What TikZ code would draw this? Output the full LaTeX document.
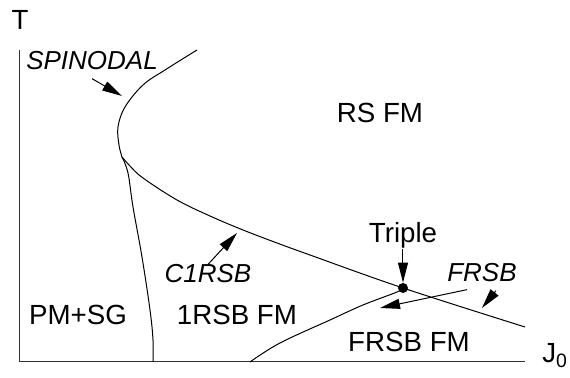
\documentclass[tikz,border=0pt]{standalone}
\usepackage{fontspec}
\setmainfont{Liberation Sans}
\usepackage{tikz}
\usetikzlibrary{positioning,arrows.meta,calc}

\begin{document}
\begin{tikzpicture}[x=0.5pt, y=-0.5pt,
    phase/.style={anchor=base, inner sep=0pt, font=\fontsize{13.85}{16}\selectfont},
    tag/.style={anchor=base, inner sep=0pt, font=\fontsize{13}{15}\selectfont\itshape},
    arr/.style={-{Triangle[length=10pt,width=5pt]}, line width=0.5pt},
    curve/.style={line width=0.5pt}]
    \useasboundingbox (0,0) rectangle (570,378);

    % Axes
    \draw[black!80, line width=0.5pt] (20,50) |- (525,362);
    \node[phase] (T) at (20,30) {T};
    \node[phase, anchor=base west] (J) at (542,363) {J\textsubscript{0}};

    % Spinodal line
    \draw[curve] plot[smooth, tension=0.6] coordinates {(197,50) (165,70) (143,85)
        (125,107) (118,127) (119,145) (122,157)};
    % C1RSB line, through the triple point
    \draw[curve] plot[smooth, tension=0.6] coordinates {(122,157) (130,166) (143,178)
        (177,200) (210,216) (243,230) (277,243) (310,255) (403,288) (525,327)};
    % PM+SG / 1RSB FM boundary
    \draw[curve] plot[smooth, tension=0.6] coordinates {(122,157) (128,173) (133,207)
        (142,257) (150,310) (153,340) (153,362)};
    % 1RSB FM / FRSB FM boundary
    \draw[curve] plot[smooth, tension=0.6] coordinates {(250,362) (280,343) (330,320)
        (363,305) (397,292) (403,288)};

    % Triple point
    \node[circle, fill, inner sep=0pt, minimum size=5pt] (tp) at (403,288) {};

    % Phases
    \node[phase] (rs) at (380,123) {RS FM};
    \node[phase] (pmsg) at (78,325) {PM+SG};
    \node[phase] (onersb) at (237,325) {1RSB FM};
    \node[phase] (frsbfm) at (409,352) {FRSB FM};

    % Lines and their labels
    \node[tag] (spin) at (92,70) {SPINODAL};
    \node[tag] (c1) at (208,283) {C1RSB};
    \node[tag] (frsb) at (482,282) {FRSB};
    \node[phase] (triple) at (403,243) {Triple};

    \coordinate (spintip) at (122,96);
    \coordinate (c1tip) at (237,233);
    \coordinate (ftipa) at (380,308);
    \coordinate (ftipb) at (482,308);

    \draw[arr] ($(spin.south)+(0,8)$) -- (spintip);
    \draw[arr] (c1.north) -- (c1tip);
    \draw[arr] (triple.south) -- (tp.north);
    \draw[arr] ($(frsb.south)+(-15,7)$) -- (ftipa);
    \draw[arr] ($(frsb.south)+(14,8)$) -- (ftipb);
\end{tikzpicture}
\end{document}
